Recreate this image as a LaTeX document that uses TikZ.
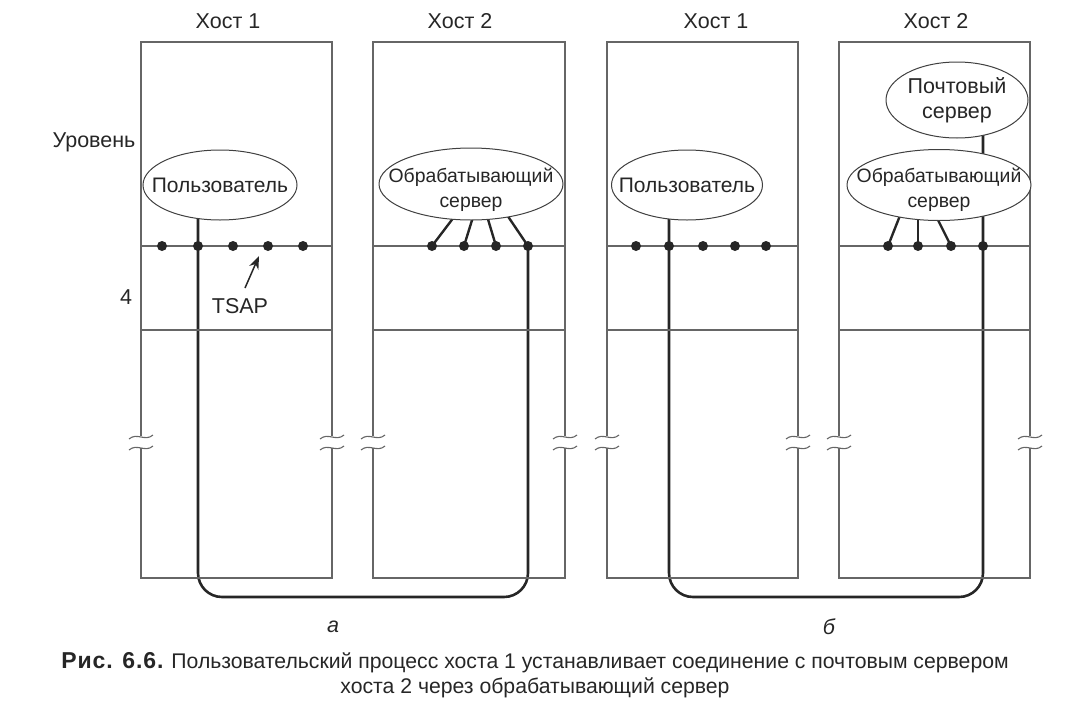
\documentclass[tikz,border=0pt]{standalone}
\usepackage{fontspec}
\setmainfont{Liberation Sans}
\usetikzlibrary{backgrounds,arrows.meta,shapes.geometric}
\begin{document}
\begin{tikzpicture}[x=1pt,y=-1pt,
  boxline/.style={draw=black!60, line width=1.3pt},
  conn/.style={draw=black!85, line width=2.6pt},
  lnk/.style={draw=black!85, line width=2.4pt},
  dot/.style={circle, fill=black!85, inner sep=0pt, minimum size=10pt},
  proc/.style={ellipse, draw=black!75, line width=1pt, fill=white, inner sep=0pt},
  ptext/.style={align=center, font=\fontsize{21}{25}\selectfont, text=black!85, inner sep=0pt},
  stext/.style={ptext, font=\fontsize{19.4}{25}\selectfont},
  lbl/.style={font=\fontsize{21.5}{24}\selectfont, text=black!85, inner sep=0pt},
  brk/.style={draw=black!60, line width=1.1pt}]
\useasboundingbox (0,0) rectangle (1071,707);
% boxes
\foreach \L/\R in {141/332,373/565,607/798,839/1030}{
  \draw[boxline] (\L,436) -- (\L,42) -- (\R,42) -- (\R,436);
  \draw[boxline] (\L,448) -- (\L,578) -- (\R,578) -- (\R,448);
  \draw[boxline] (\L,246) -- (\R,246);
  \draw[boxline] (\L,330) -- (\R,330);
  \foreach \X in {\L,\R}{
    \draw[brk] ({\X-12},439) .. controls ({\X-4},432) and ({\X+4},442) .. ({\X+12},435);
    \draw[brk] ({\X-12},450) .. controls ({\X-4},443) and ({\X+4},453) .. ({\X+12},446);
  }
}
% titles
\node[lbl] (t1) at (228,21) {Хост 1};
\node[lbl] (t2) at (460,21) {Хост 2};
\node[lbl] (t3) at (716,21) {Хост 1};
\node[lbl] (t4) at (936,21) {Хост 2};
\node[lbl] (lev) at (94,142) {Уровень};
\node[lbl] (four) at (126,297) {4};
% ellipses
\node[proc, minimum width=154pt, minimum height=70pt] (u1) at (220,185) {};
\node[ptext] (u1t) at (u1.center) {Пользователь};
\node[proc, minimum width=184pt, minimum height=72pt] (s2) at (471,184) {};
\node[stext] (s2t) at (471,190) {Обрабатывающий\\сервер};
\node[proc, minimum width=151pt, minimum height=70pt] (u3) at (687,185) {};
\node[ptext] (u3t) at (u3.center) {Пользователь};
\node[proc, minimum width=142pt, minimum height=76pt] (m4) at (957,100) {};
\node[ptext, font=\fontsize{21.5}{25}\selectfont] (m4t) at (m4.center) {Почтовый\\сервер};
\node[proc, minimum width=184pt, minimum height=71pt] (s4) at (939,185) {};
\node[stext] (s4t) at (939,190) {Обрабатывающий\\сервер};
% dots
\foreach \n/\x in {11/162,12/198,13/233,14/268,15/303,21/432,22/464,23/496,24/528,31/636,32/669,33/703,34/735,35/766,41/888,42/918,43/951,44/983}{
  \node[dot] (d\n) at (\x,246) {};
}
\coordinate (bot) at (0,597);
\coordinate (e21) at (454,217);
\coordinate (e22) at (473,217);
\coordinate (e23) at (487,216);
\coordinate (e24) at (505,212);
\coordinate (e41) at (901,213);
\coordinate (e42) at (918,215);
\coordinate (e43) at (935,214);
\begin{scope}[on background layer]
  \draw[conn, rounded corners=24pt] (d12 |- u1.center) -- (d12 |- bot) -- (d24 |- bot) -- (d24.center);
  \draw[conn, rounded corners=24pt] (d32 |- u3.center) -- (d32 |- bot) -- (d44 |- bot) -- (d44 |- m4.center);
  \draw[lnk] (d21.center) -- (e21);
  \draw[lnk] (d22.center) -- (e22);
  \draw[lnk] (d23.center) -- (e23);
  \draw[lnk] (d24.center) -- (e24);
  \draw[lnk] (d41.center) -- (e41);
  \draw[lnk] (d42.center) -- (e42);
  \draw[lnk] (d43.center) -- (e43);
\end{scope}
% TSAP
\node[lbl] (tsap) at (240,306) {TSAP};
\coordinate (tt) at (245,288);
\coordinate (th) at (259,256);
\draw[draw=black!85, line width=1.5pt, -{Stealth[length=13pt,width=10pt]}] (tt) -- (th);
% sub labels
\node[lbl, font=\fontsize{21.5}{24}\selectfont\itshape] (la) at (333,627) {а};
\node[lbl, font=\fontsize{21.5}{24}\selectfont\itshape] (lb) at (829,627) {б};
% caption
\node[lbl, align=center, font=\fontsize{21.2}{25}\selectfont] (cap) at (535,675) {{\fontsize{23}{25}\selectfont\bfseries\addfontfeatures{LetterSpace=4}Рис. 6.6.} Пользовательский процесс хоста 1 устанавливает соединение с почтовым сервером\\хоста 2 через обрабатывающий сервер};
\end{tikzpicture}
\end{document}
